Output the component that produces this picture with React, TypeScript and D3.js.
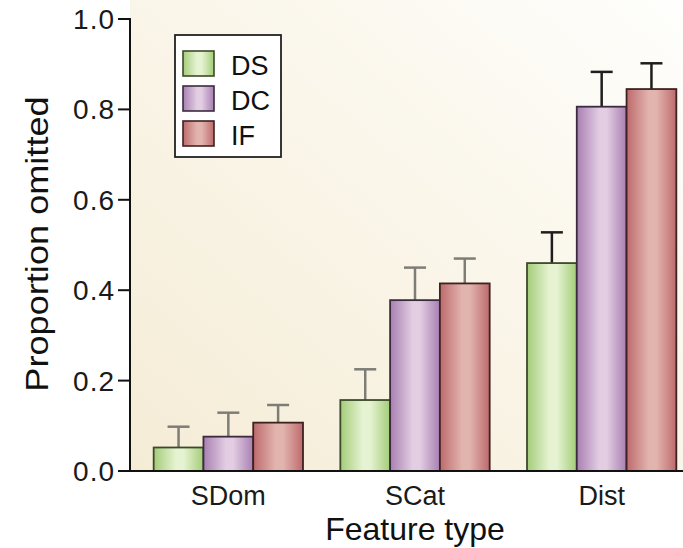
import * as d3 from 'd3'

const groups = ['SDom', 'SCat', 'Dist']
const seriesNames = ['DS', 'DC', 'IF']
// values[group][series]
const means = [
  [0.052, 0.076, 0.107],
  [0.157, 0.378, 0.415],
  [0.46, 0.806, 0.845],
]
const errTops = [
  [0.098, 0.129, 0.146],
  [0.225, 0.45, 0.47],
  [0.528, 0.883, 0.902],
]
const yTicks = [0, 0.2, 0.4, 0.6, 0.8, 1.0]

const palette = [
  { edge: '#a3cc78', mid: '#e6f3d2', stroke: '#3d4a2a' },
  { edge: '#a87fb2', mid: '#e2cde2', stroke: '#3a2c3e' },
  { edge: '#bd6a6c', mid: '#e2b4ae', stroke: '#3e2222' },
]
const errColor = ['#7d7d76', '#7d7d76', '#1e1e1e']

const W = 683
const H = 548
const margin = { top: 19, right: 0, bottom: 77, left: 130 }

export default function App() {
  const innerH = H - margin.top - margin.bottom
  const font = 'Liberation Sans, Arial, Helvetica, sans-serif'

  const x0 = d3
    .scaleBand<string>()
    .domain(groups)
    .range([135, 695])
    .paddingInner(0.2)
    .paddingOuter(0.1)
  const x1 = d3
    .scaleBand<string>()
    .domain(seriesNames)
    .range([0, x0.bandwidth()])
  const y = d3.scaleLinear().domain([0, 1]).range([margin.top + innerH - 0, margin.top])

  const base = y(0)

  return (
    <svg
      width={W}
      height={H}
      style={{ position: 'absolute', left: 0, top: 0, background: '#fff' }}
      fontFamily={font}
    >
      <defs>
        <linearGradient id="bg" x1="0" y1="1" x2="1" y2="0">
          <stop offset="0" stopColor="#f5ecd6" />
          <stop offset="0.55" stopColor="#faf6ea" />
          <stop offset="1" stopColor="#fefefc" />
        </linearGradient>
        {palette.map((p, i) => (
          <linearGradient key={i} id={`bar${i}`} x1="0" y1="0" x2="1" y2="0">
            <stop offset="0" stopColor={p.edge} />
            <stop offset="0.45" stopColor={p.mid} />
            <stop offset="0.6" stopColor={p.mid} />
            <stop offset="1" stopColor={p.edge} />
          </linearGradient>
        ))}
      </defs>

      <rect x={margin.left} y={0} width={W - margin.left} height={base} fill="url(#bg)" />

      {/* bars */}
      {groups.map((g, gi) => (
        <g key={g} transform={`translate(${x0(g)},0)`}>
          {seriesNames.map((s, si) => {
            const bx = x1(s)!
            const bw = x1.bandwidth()
            const cx = bx + bw / 2
            return (
              <g key={s}>
                <line
                  x1={cx}
                  x2={cx}
                  y1={y(means[gi][si])}
                  y2={y(errTops[gi][si])}
                  stroke={errColor[gi]}
                  strokeWidth={2.5}
                />
                <line
                  x1={cx - 11}
                  x2={cx + 11}
                  y1={y(errTops[gi][si])}
                  y2={y(errTops[gi][si])}
                  stroke={errColor[gi]}
                  strokeWidth={2.5}
                />
                <rect
                  x={bx}
                  y={y(means[gi][si])}
                  width={bw}
                  height={base - y(means[gi][si])}
                  fill={`url(#bar${si})`}
                  stroke={palette[si].stroke}
                  strokeWidth={1.8}
                />
              </g>
            )
          })}
        </g>
      ))}

      {/* y axis */}
      <line x1={margin.left} x2={margin.left} y1={y(1) - 1} y2={base} stroke="#111" strokeWidth={2} />
      {yTicks.map((t) => (
        <g key={t}>
          <line x1={margin.left - 12} x2={margin.left} y1={y(t)} y2={y(t)} stroke="#111" strokeWidth={2} />
          <text
            x={margin.left - 15}
            y={y(t)}
            dy="0.36em"
            textAnchor="end"
            fontSize={28}
            letterSpacing={1}
            fill="#1a1a1a"
          >
            {d3.format('.1f')(t)}
          </text>
        </g>
      ))}

      {/* x axis */}
      <line x1={margin.left - 12} x2={W} y1={base} y2={base} stroke="#111" strokeWidth={2} />
      {groups.map((g) => (
        <text
          key={g}
          x={x0(g)! + x0.bandwidth() / 2}
          y={base + 34}
          textAnchor="middle"
          fontSize={27}
          fill="#1a1a1a"
        >
          {g}
        </text>
      ))}
      <text x={415} y={base + 69} textAnchor="middle" fontSize={32} fill="#111">
        Feature type
      </text>
      <text
        transform={`translate(48,244) rotate(-90) scale(1.13,1)`}
        textAnchor="middle"
        fontSize={32}
        fill="#111"
      >
        Proportion omitted
      </text>

      {/* legend */}
      <g transform="translate(175,35)">
        <rect x={0} y={0} width={106} height={122} fill="#fff" stroke="#222" strokeWidth={1.8} />
        {seriesNames.map((s, i) => (
          <g key={s} transform={`translate(8,${16 + i * 35})`}>
            <rect x={0} y={0} width={31} height={25} fill={`url(#bar${i})`} stroke={palette[i].stroke} strokeWidth={1.6} />
            <text x={48} y={24} fontSize={27} fill="#111">
              {s}
            </text>
          </g>
        ))}
      </g>
    </svg>
  )
}
